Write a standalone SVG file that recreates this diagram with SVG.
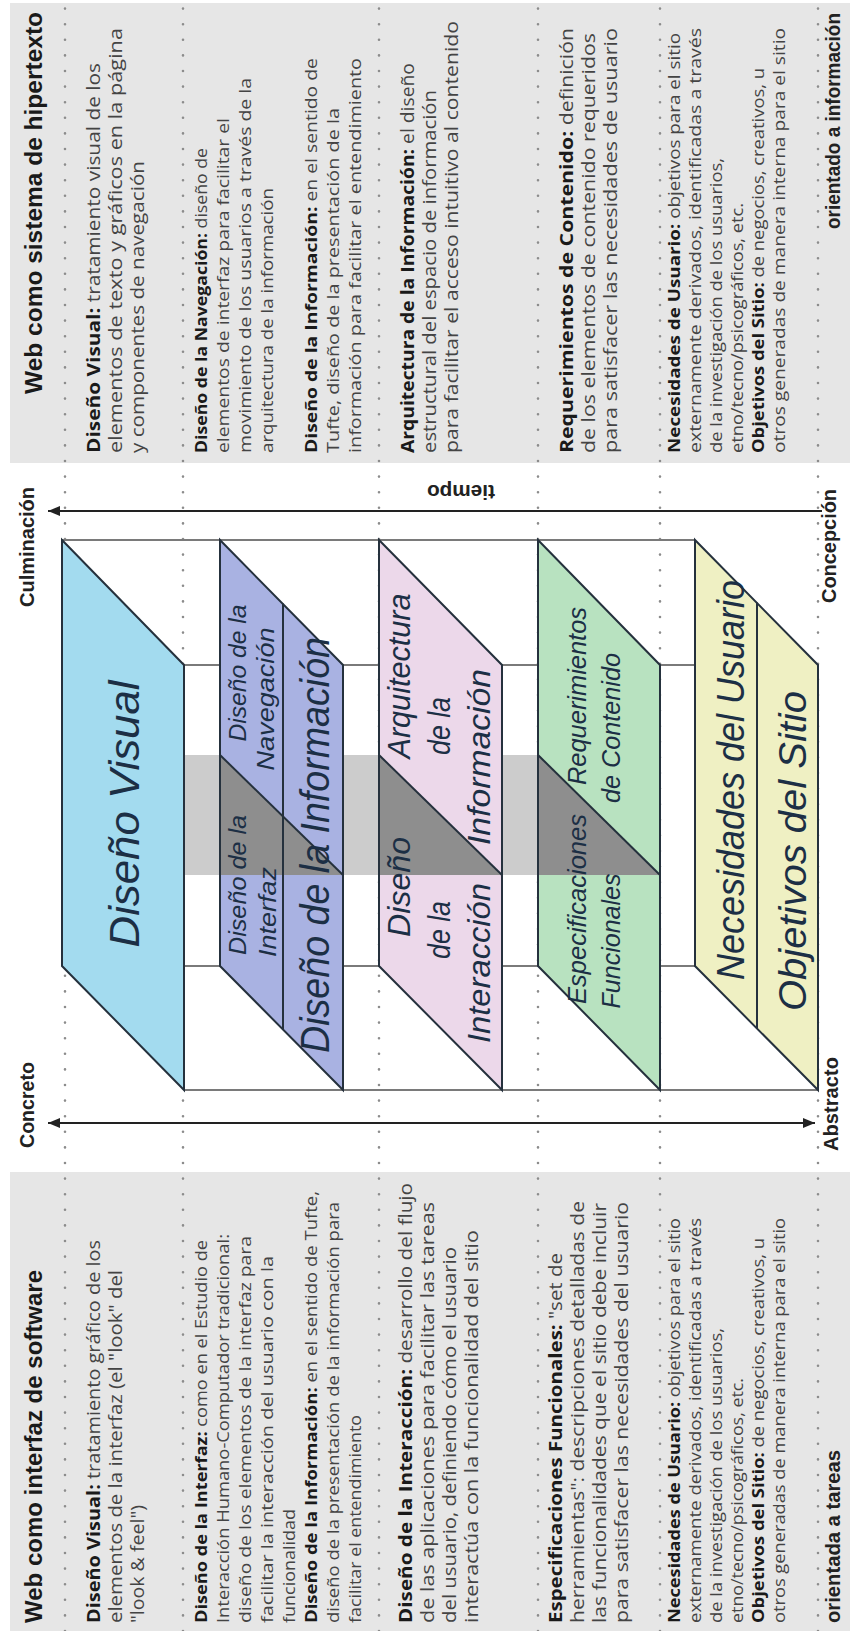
<svg xmlns="http://www.w3.org/2000/svg" width="850" height="1631" viewBox="0 0 850 1631">
<style>
.panel{fill:#e6e6e6}
.dot{stroke:#8c8c8c;stroke-width:2.6;stroke-dasharray:0 15.6;stroke-linecap:round;fill:none}
.frame{stroke:#7a7a7a;stroke-width:1.8;fill:none}
.edge{fill:none;stroke:#25313d;stroke-width:2;stroke-linejoin:miter}
.div{fill:none;stroke:#25313d;stroke-width:2}
.dark{fill:#8e8e8e}
.band{fill:#cccccc}
.arrow{stroke:#222;stroke-width:2;fill:none}
.hd{font-family:'Liberation Sans',Arial,sans-serif;font-weight:bold;font-size:24px;fill:#1a1a1a}
.lbl{font-family:'Liberation Sans',Arial,sans-serif;font-weight:bold;font-size:20px;fill:#222}
.tb{font-family:'Open Sans','Liberation Sans',sans-serif;font-size:18px;fill:#444}
.ts{font-family:'Open Sans','Liberation Sans',sans-serif;font-size:16px;fill:#444}
.b{font-weight:bold;fill:#1a1a1a}
.pl{font-family:'Liberation Sans Narrow','Liberation Sans',Arial,sans-serif;font-style:italic;fill:#1c2f45;text-anchor:middle}
</style>
<defs>
<marker id="ah" viewBox="0 0 12 10" refX="12" refY="5" markerWidth="12" markerHeight="10" markerUnits="userSpaceOnUse" orient="auto-start-reverse"><path d="M0,0 L12,5 L0,10 z" fill="#222"/></marker>
</defs>
<g transform="translate(0,1631) rotate(-90)">
<g id="panels">
<rect class="panel" x="0" y="10" width="459" height="840"/>
<rect class="panel" x="1168" y="10" width="460" height="840"/>
</g>
<g id="dotted">
<line class="dot" x1="0" y1="65" x2="1631" y2="65"/>
<line class="dot" x1="0" y1="183" x2="1631" y2="183"/>
<line class="dot" x1="0" y1="379" x2="1631" y2="379"/>
<line class="dot" x1="0" y1="538" x2="1631" y2="538"/>
<line class="dot" x1="0" y1="660" x2="1631" y2="660"/>
<line class="dot" x1="0" y1="818" x2="1631" y2="818"/>
</g>
<g id="band"><rect class="band" x="756" y="184" width="120" height="476"/></g>
<g id="frame">
<line class="frame" x1="1091" y1="62" x2="1091" y2="695"/>
<line class="frame" x1="665" y1="62" x2="665" y2="695"/>
<line class="frame" x1="966" y1="184" x2="966" y2="818"/>
<line class="frame" x1="541" y1="184" x2="541" y2="818"/>
</g>
<g id="plane-visual">
<polygon points="665,62 1091,62 966,184 541,184" fill="#a3dbef"/>
<polygon class="edge" points="665,62 1091,62 966,184 541,184"/>
<text class="pl" x="817" y="139" font-size="42" textLength="267" lengthAdjust="spacingAndGlyphs">Diseño Visual</text>
</g>
<g id="plane-estructura-superior">
<polygon points="665,220 1091,220 966,343 541,343" fill="#a9b2e2"/>
<polygon class="dark" points="756,220 876,220 756,343"/>
<line class="div" x1="876" y1="220" x2="756" y2="343"/>
<line class="div" x1="601.5" y1="283" x2="1027.5" y2="283"/>
<polygon class="edge" points="665,220 1091,220 966,343 541,343"/>
<text class="pl" x="746" y="246" font-size="24" textLength="140" lengthAdjust="spacingAndGlyphs">Diseño de la</text>
<text class="pl" x="719" y="276" font-size="24" textLength="90" lengthAdjust="spacingAndGlyphs">Interfaz</text>
<text class="pl" x="958" y="246" font-size="24" textLength="137" lengthAdjust="spacingAndGlyphs">Diseño de la</text>
<text class="pl" x="932" y="274" font-size="24" textLength="143" lengthAdjust="spacingAndGlyphs">Navegación</text>
<text class="pl" x="786" y="329" font-size="40" textLength="416" lengthAdjust="spacingAndGlyphs">Diseño de la Información</text>
</g>
<g id="plane-estructura">
<polygon points="665,379 1091,379 966,502 541,502" fill="#ecd8ea"/>
<polygon class="dark" points="756,379 876,379 756,502"/>
<line class="div" x1="876" y1="379" x2="756" y2="502"/>
<polygon class="edge" points="665,379 1091,379 966,502 541,502"/>
<text class="pl" x="744" y="410" font-size="32" textLength="100" lengthAdjust="spacingAndGlyphs">Diseño</text>
<text class="pl" x="701" y="450" font-size="32" textLength="58" lengthAdjust="spacingAndGlyphs">de la</text>
<text class="pl" x="668" y="490" font-size="32" textLength="160" lengthAdjust="spacingAndGlyphs">Interacción</text>
<text class="pl" x="955" y="410" font-size="32" textLength="165" lengthAdjust="spacingAndGlyphs">Arquitectura</text>
<text class="pl" x="905" y="450" font-size="32" textLength="58" lengthAdjust="spacingAndGlyphs">de la</text>
<text class="pl" x="874" y="490" font-size="32" textLength="176" lengthAdjust="spacingAndGlyphs">Información</text>
</g>
<g id="plane-alcance">
<polygon points="665,538 1091,538 966,660 541,660" fill="#b8e2c0"/>
<polygon class="dark" points="756,538 876,538 756,660"/>
<line class="div" x1="876" y1="538" x2="756" y2="660"/>
<polygon class="edge" points="665,538 1091,538 966,660 541,660"/>
<text class="pl" x="722" y="586" font-size="26" textLength="190" lengthAdjust="spacingAndGlyphs">Especificaciones</text>
<text class="pl" x="690" y="620" font-size="26" textLength="135" lengthAdjust="spacingAndGlyphs">Funcionales</text>
<text class="pl" x="935" y="586" font-size="26" textLength="178" lengthAdjust="spacingAndGlyphs">Requerimientos</text>
<text class="pl" x="903" y="620" font-size="26" textLength="150" lengthAdjust="spacingAndGlyphs">de Contenido</text>
</g>
<g id="plane-estrategia">
<polygon points="665,695 1091,695 966,818 541,818" fill="#eff0c3"/>
<line class="div" x1="602.5" y1="757" x2="1028.5" y2="757"/>
<polygon class="edge" points="665,695 1091,695 966,818 541,818"/>
<text class="pl" x="851" y="744" font-size="38" textLength="400" lengthAdjust="spacingAndGlyphs">Necesidades del Usuario</text>
<text class="pl" x="780" y="806" font-size="38" textLength="320" lengthAdjust="spacingAndGlyphs">Objetivos del Sitio</text>
</g>
<g id="connectors">
<line class="arrow" x1="508" y1="48" x2="508" y2="815" marker-start="url(#ah)" marker-end="url(#ah)"/>
<line class="arrow" x1="1120" y1="48" x2="1120" y2="822" marker-start="url(#ah)"/>
</g>
<g id="axis-labels">
<text class="lbl" x="483" y="34" textLength="86" lengthAdjust="spacingAndGlyphs">Concreto</text>
<text class="lbl" x="1024" y="34" textLength="120" lengthAdjust="spacingAndGlyphs">Culminación</text>
<text class="lbl" x="480" y="838" textLength="94" lengthAdjust="spacingAndGlyphs">Abstracto</text>
<text class="lbl" x="1028" y="836" textLength="114" lengthAdjust="spacingAndGlyphs">Concepción</text>
<text class="lbl" transform="translate(1146,495) rotate(-90)" x="0" y="0" textLength="68" lengthAdjust="spacingAndGlyphs">tiempo</text>
</g>
<g id="software-column">
<text class="hd" x="8" y="42" textLength="353" lengthAdjust="spacingAndGlyphs">Web como interfaz de software</text>
<text class="tb" x="8" y="100" textLength="383" lengthAdjust="spacingAndGlyphs"><tspan class="b">Diseño Visual:</tspan> tratamiento gráfico de los</text>
<text class="tb" x="8" y="122" textLength="353" lengthAdjust="spacingAndGlyphs">elementos de la interfaz (el "look" del</text>
<text class="tb" x="8" y="144" textLength="118" lengthAdjust="spacingAndGlyphs">"look &amp; feel")</text>
<text class="ts" x="8" y="207" textLength="383" lengthAdjust="spacingAndGlyphs"><tspan class="b">Diseño de la Interfaz:</tspan> como en el Estudio de</text>
<text class="ts" x="8" y="229" textLength="389" lengthAdjust="spacingAndGlyphs">Interacción Humano-Computador tradicional:</text>
<text class="ts" x="8" y="251" textLength="387" lengthAdjust="spacingAndGlyphs">diseño de los elementos de la interfaz para</text>
<text class="ts" x="8" y="273" textLength="367" lengthAdjust="spacingAndGlyphs">facilitar la interacción del usuario con la</text>
<text class="ts" x="8" y="295" textLength="114" lengthAdjust="spacingAndGlyphs">funcionalidad</text>
<text class="ts" x="8" y="317" textLength="432" lengthAdjust="spacingAndGlyphs"><tspan class="b">Diseño de la Información:</tspan> en el sentido de Tufte,</text>
<text class="ts" x="8" y="339" textLength="421" lengthAdjust="spacingAndGlyphs">diseño de la presentación de la información para</text>
<text class="ts" x="8" y="361" textLength="208" lengthAdjust="spacingAndGlyphs">facilitar el entendimiento</text>
<text class="tb" x="8" y="412" textLength="440" lengthAdjust="spacingAndGlyphs"><tspan class="b">Diseño de la Interacción:</tspan> desarrollo del flujo</text>
<text class="tb" x="8" y="434" textLength="421" lengthAdjust="spacingAndGlyphs">de las aplicaciones para facilitar las tareas</text>
<text class="tb" x="8" y="456" textLength="376" lengthAdjust="spacingAndGlyphs">del usuario, definiendo cómo el usuario</text>
<text class="tb" x="8" y="478" textLength="393" lengthAdjust="spacingAndGlyphs">interactúa con la funcionalidad del sitio</text>
<text class="tb" x="8" y="562" textLength="370" lengthAdjust="spacingAndGlyphs"><tspan class="b">Especificaciones Funcionales:</tspan> "set de</text>
<text class="tb" x="8" y="584" textLength="422" lengthAdjust="spacingAndGlyphs">herramientas": descripciones detalladas de</text>
<text class="tb" x="8" y="606" textLength="420" lengthAdjust="spacingAndGlyphs">las funcionalidades que el sitio debe incluir</text>
<text class="tb" x="8" y="628" textLength="421" lengthAdjust="spacingAndGlyphs">para satisfacer las necesidades del usuario</text>
<text class="ts" x="8" y="680" textLength="405" lengthAdjust="spacingAndGlyphs"><tspan class="b">Necesidades de Usuario:</tspan> objetivos para el sitio</text>
<text class="ts" x="8" y="701" textLength="405" lengthAdjust="spacingAndGlyphs">externamente derivados, identificadas a través</text>
<text class="ts" x="8" y="722" textLength="295" lengthAdjust="spacingAndGlyphs">de la investigación de los usuarios,</text>
<text class="ts" x="8" y="743" textLength="245" lengthAdjust="spacingAndGlyphs">etno/tecno/psicográficos, etc.</text>
<text class="ts" x="8" y="764" textLength="385" lengthAdjust="spacingAndGlyphs"><tspan class="b">Objetivos del Sitio:</tspan> de negocios, creativos, u</text>
<text class="ts" x="8" y="785" textLength="405" lengthAdjust="spacingAndGlyphs">otros generadas de manera interna para el sitio</text>
<text class="lbl" x="8" y="840" textLength="173" lengthAdjust="spacingAndGlyphs">orientada a tareas</text>
</g>
<g id="hypertext-column">
<text class="hd" x="1619" y="42" text-anchor="end" textLength="382" lengthAdjust="spacingAndGlyphs">Web como sistema de hipertexto</text>
<text class="tb" x="1178" y="100" textLength="390" lengthAdjust="spacingAndGlyphs"><tspan class="b">Diseño Visual:</tspan> tratamiento visual de los</text>
<text class="tb" x="1178" y="122" textLength="425" lengthAdjust="spacingAndGlyphs">elementos de texto y gráficos en la página</text>
<text class="tb" x="1178" y="144" textLength="292" lengthAdjust="spacingAndGlyphs">y componentes de navegación</text>
<text class="ts" x="1178" y="207" textLength="305" lengthAdjust="spacingAndGlyphs"><tspan class="b">Diseño de la Navegación:</tspan> diseño de</text>
<text class="ts" x="1178" y="229" textLength="335" lengthAdjust="spacingAndGlyphs">elementos de interfaz para facilitar el</text>
<text class="ts" x="1178" y="251" textLength="375" lengthAdjust="spacingAndGlyphs">movimiento de los usuarios a través de la</text>
<text class="ts" x="1178" y="273" textLength="265" lengthAdjust="spacingAndGlyphs">arquitectura de la información</text>
<text class="ts" x="1178" y="317" textLength="395" lengthAdjust="spacingAndGlyphs"><tspan class="b">Diseño de la Información:</tspan> en el sentido de</text>
<text class="ts" x="1178" y="339" textLength="345" lengthAdjust="spacingAndGlyphs">Tufte, diseño de la presentación de la</text>
<text class="ts" x="1178" y="361" textLength="395" lengthAdjust="spacingAndGlyphs">información para facilitar el entendimiento</text>
<text class="tb" x="1178" y="414" textLength="390" lengthAdjust="spacingAndGlyphs"><tspan class="b">Arquitectura de la Información:</tspan> el diseño</text>
<text class="tb" x="1178" y="436" textLength="363" lengthAdjust="spacingAndGlyphs">estructural del espacio de información</text>
<text class="tb" x="1178" y="458" textLength="432" lengthAdjust="spacingAndGlyphs">para facilitar el acceso intuitivo al contenido</text>
<text class="tb" x="1178" y="573" textLength="425" lengthAdjust="spacingAndGlyphs"><tspan class="b">Requerimientos de Contenido:</tspan> definición</text>
<text class="tb" x="1178" y="595" textLength="420" lengthAdjust="spacingAndGlyphs">de los elementos de contenido requeridos</text>
<text class="tb" x="1178" y="617" textLength="425" lengthAdjust="spacingAndGlyphs">para satisfacer las necesidades de usuario</text>
<text class="ts" x="1178" y="680" textLength="420" lengthAdjust="spacingAndGlyphs"><tspan class="b">Necesidades de Usuario:</tspan> objetivos para el sitio</text>
<text class="ts" x="1178" y="701" textLength="425" lengthAdjust="spacingAndGlyphs">externamente derivados, identificadas a través</text>
<text class="ts" x="1178" y="722" textLength="295" lengthAdjust="spacingAndGlyphs">de la investigación de los usuarios,</text>
<text class="ts" x="1178" y="743" textLength="250" lengthAdjust="spacingAndGlyphs">etno/tecno/psicográficos, etc.</text>
<text class="ts" x="1178" y="764" textLength="385" lengthAdjust="spacingAndGlyphs"><tspan class="b">Objetivos del Sitio:</tspan> de negocios, creativos, u</text>
<text class="ts" x="1178" y="785" textLength="425" lengthAdjust="spacingAndGlyphs">otros generadas de manera interna para el sitio</text>
<text class="lbl" x="1618" y="840" text-anchor="end" textLength="216" lengthAdjust="spacingAndGlyphs">orientado a información</text>
</g>
</g>
</svg>
